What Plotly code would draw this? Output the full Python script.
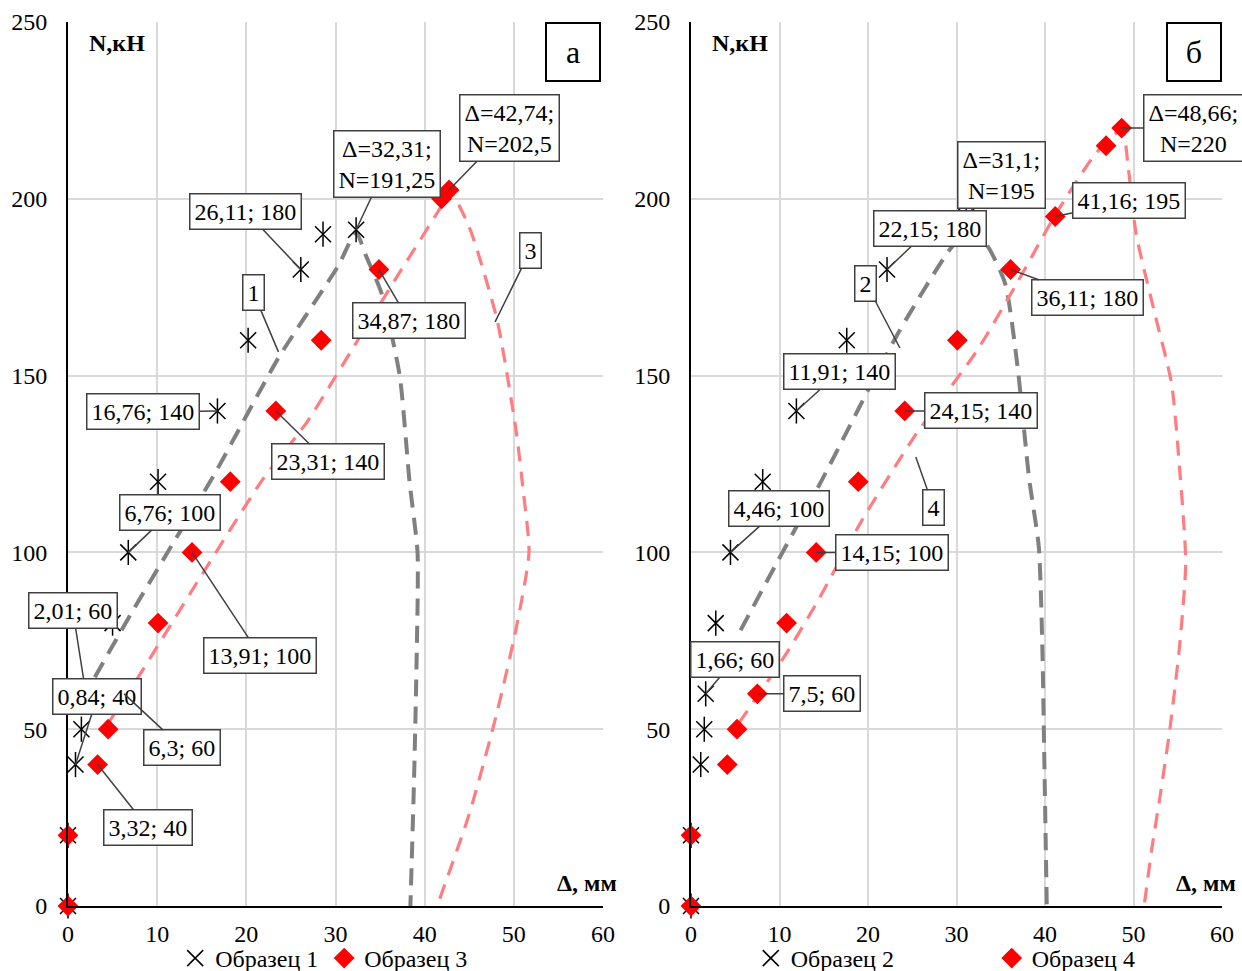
import plotly.graph_objects as go

# ---------------- Panel а ----------------
s1_x = [0, 0, 0.84, 1.5, 2.01, 5.0, 6.76, 10.1, 16.76, 20.2, 26.11, 28.6, 32.31]
s1_y = [0, 20, 40, 50, 60, 80, 100, 120, 140, 160, 180, 190, 191.25]
s3_x = [0, 0, 3.32, 4.5, 6.3, 10.1, 13.91, 18.2, 23.31, 28.4, 34.87, 41.9, 42.74]
s3_y = [0, 20, 40, 50, 60, 80, 100, 120, 140, 160, 180, 200, 202.5]

c1_x = [1.5, 7.1, 12.0, 16.4, 23.6, 30.3, 32.3, 33.4, 35.2, 37.2, 38.3, 39.2, 39.1, 38.8, 38.4]
c1_y = [58, 82.8, 103.5, 122, 155, 181, 190.5, 184, 173, 150, 120, 100, 70, 35, 0]
c3_x = [4.6, 7.9, 14.6, 21.8, 26.7, 32.5, 36.9, 41.8, 42.74, 45.0, 48.1, 50.3, 51.0, 51.7, 50.3, 48.1, 45.0, 41.4]
c3_y = [52, 64.8, 92, 120.5, 136.5, 160, 178, 197.7, 202.5, 192, 166, 133.6, 118.6, 100, 79, 54.6, 26, 0]

# ---------------- Panel б ----------------
s2_x = [0, 0, 1.1, 1.5, 1.66, 2.8, 4.46, 8.1, 11.91, 17.6, 22.15, 31.1]
s2_y = [0, 20, 40, 50, 60, 80, 100, 120, 140, 160, 180, 195]
s4_x = [0, 0, 4.1, 5.2, 7.5, 10.8, 14.15, 18.9, 24.15, 30.1, 36.11, 41.16, 46.9, 48.66]
s4_y = [0, 20, 40, 50, 60, 80, 100, 120, 140, 160, 180, 195, 215, 220]

c2_x = [5.6, 9.9, 14.8, 23.4, 29.2, 31.3, 33.4, 35.5, 36.9, 38.2, 39.3, 39.7, 39.9, 40.2]
c2_y = [78, 98, 120.5, 162, 185.5, 191, 187, 176, 152.5, 121, 101.6, 73, 45, 0]
c4_x = [5.4, 10.8, 14.4, 19.3, 25.2, 32.3, 36.8, 41.3, 45.8, 48.7, 49.4, 50.3, 52.5, 54.3, 55.2, 55.9, 55.2, 54.1, 53.0, 52.1, 51.2]
c4_y = [51.7, 71.5, 86.6, 109, 132.6, 157, 176, 196, 213, 219.5, 209, 190, 166.6, 147.8, 124, 97, 73.3, 49.8, 31, 16.7, 0]

x_ticks = [0, 10, 20, 30, 40, 50, 60]
y_ticks = [0, 50, 100, 150, 200, 250]

# callouts: (text, x, y, ax, ay)
call_a = [
    ("Δ=42,74;<br>N=202,5", 42.74, 202.5, 60, -62),
    ("Δ=32,31;<br>N=191,25", 32.31, 191.25, 31, -66),
    ("26,11; 180", 26.11, 180, -55, -58),
    ("1", 23.6, 156.7, -25, -59),
    ("3", 47.9, 165.2, 35, -71),
    ("34,87; 180", 34.87, 180, 30, 51),
    ("16,76; 140", 16.76, 140, -74, 1),
    ("23,31; 140", 23.31, 140, 52, 51),
    ("6,76; 100", 6.76, 100, 42, -40),
    ("13,91; 100", 13.91, 100, 68, 103),
    ("2,01; 60", 2.01, 60, -13, -83),
    ("0,84; 40", 0.84, 40, 22, -68),
    ("6,3; 60", 6.3, 60, 58, 54),
    ("3,32; 40", 3.32, 40, 50, 63),
]
call_b = [
    ("Δ=48,66;<br>N=220", 48.66, 220, 72, 0),
    ("41,16; 195", 41.16, 195, 74, -16),
    ("Δ=31,1;<br>N=195", 31.1, 195, 35, -41),
    ("22,15; 180", 22.15, 180, 43, -41),
    ("36,11; 180", 36.11, 180, 77, 28),
    ("2", 23.6, 157.8, -34, -65),
    ("11,91; 140", 11.91, 140, 43, -39),
    ("24,15; 140", 24.15, 140, 76, 0),
    ("4,46; 100", 4.46, 100, 49, -44),
    ("14,15; 100", 14.15, 100, 76, 0),
    ("4", 25.4, 127, 18, 51),
    ("1,66; 60", 1.66, 60, 29, -34),
    ("7,5; 60", 7.5, 60, 65, 0),
]

FONT = "Liberation Serif, Times New Roman, serif"
FS = 24
GRAY = "#808080"
PINK = "#FF7C80"
RED = "#FF0000"

fig = go.Figure()

def add_panel(xa, ya, sx, sy, sxr, syr, cgx, cgy, crx, cry, name_a, name_b, leg):
    fig.add_trace(go.Scatter(x=cgx, y=cgy, mode="lines", xaxis=xa, yaxis=ya, showlegend=False,
                             line=dict(color=GRAY, width=4, dash="17px,10px", shape="spline", smoothing=0.6),
                             hoverinfo="skip"))
    fig.add_trace(go.Scatter(x=crx, y=cry, mode="lines", xaxis=xa, yaxis=ya, showlegend=False,
                             line=dict(color=PINK, width=3.2, dash="15px,10px", shape="spline", smoothing=0.6),
                             hoverinfo="skip"))
    fig.add_trace(go.Scatter(x=sx, y=sy, mode="markers", xaxis=xa, yaxis=ya, name=name_a, legend=leg,
                             cliponaxis=False,
                             marker=dict(symbol="x-thin-open", size=16, color="black",
                                         line=dict(color="black", width=1.5))))
    fig.add_trace(go.Scatter(x=sx, y=sy, mode="markers", xaxis=xa, yaxis=ya, showlegend=False,
                             cliponaxis=False,
                             marker=dict(symbol="line-ns-open", size=18, color="black",
                                         line=dict(color="black", width=1.5))))
    fig.add_trace(go.Scatter(x=sxr, y=syr, mode="markers", xaxis=xa, yaxis=ya, name=name_b, legend=leg,
                             cliponaxis=False,
                             marker=dict(symbol="diamond", size=16, color=RED, line=dict(width=0))))

add_panel("x", "y", s1_x, s1_y, s3_x, s3_y, c1_x, c1_y, c3_x, c3_y, "Образец 1", "Образец 3", "legend")
add_panel("x2", "y2", s2_x, s2_y, s4_x, s4_y, c2_x, c2_y, c4_x, c4_y, "Образец 2", "Образец 4", "legend2")

# figure is slightly taller than the 971 px window; the extra strip is hidden (overflow hidden)
W, H = 1242, 981
dl = [68 / W, 603 / W]
dr = [691 / W, 1222 / W]
dy = [(H - 906) / H, (H - 22) / H]

axis_common = dict(showgrid=True, gridcolor="#d9d9d9", gridwidth=1.5, zeroline=False,
                   showline=True, linecolor="black", linewidth=2, ticks="",
                   tickfont=dict(family=FONT, size=FS, color="black"), automargin=False)

leg_common = dict(orientation="h", y=0.0, yanchor="bottom",
                  xanchor="center", font=dict(family=FONT, size=FS), bgcolor="rgba(0,0,0,0)",
                  itemwidth=30, tracegroupgap=0)

fig.update_layout(
    width=W, height=H,
    margin=dict(l=0, r=0, t=0, b=0),
    paper_bgcolor="white", plot_bgcolor="white",
    font=dict(family=FONT, size=FS, color="black"),
    xaxis=dict(domain=dl, range=[0, 60], tickvals=x_ticks, anchor="y", ticklabelstandoff=5, **axis_common),
    yaxis=dict(domain=dy, range=[0, 250], tickvals=y_ticks, anchor="x", ticklabelstandoff=14, **axis_common),
    xaxis2=dict(domain=dr, range=[0, 60], tickvals=x_ticks, anchor="y2", ticklabelstandoff=5, **axis_common),
    yaxis2=dict(domain=dy, range=[0, 250], tickvals=y_ticks, anchor="x2", ticklabelstandoff=14, **axis_common),
    legend=dict(x=0.261, entrywidth=104, **leg_common),
    legend2=dict(x=0.7985, entrywidth=196, **leg_common),
    showlegend=True,
)

annots = []
for calls, xr, yr in ((call_a, "x", "y"), (call_b, "x2", "y2")):
    for text, x, y, ax, ay in calls:
        annots.append(dict(x=x, y=y, xref=xr, yref=yr, text=text, showarrow=True,
                           ax=ax, ay=ay, arrowhead=0, arrowwidth=1.5, arrowcolor="#404040",
                           standoff=0, startstandoff=0,
                           bgcolor="white", bordercolor="#404040", borderwidth=1.5, borderpad=4,
                           font=dict(family=FONT, size=FS, color="black")))
    # axis titles
    annots.append(dict(x=0, y=250, xref=xr, yref=yr, text="<b>N,кН</b>", showarrow=False,
                       xanchor="left", yanchor="top", xshift=19, yshift=-6,
                       font=dict(family=FONT, size=FS, color="black")))
    annots.append(dict(x=60, y=0, xref=xr, yref=yr, text="<b>Δ, мм</b>", showarrow=False,
                       xanchor="right", yanchor="bottom", xshift=16, yshift=8,
                       font=dict(family=FONT, size=FS, color="black")))
annots.append(dict(x=60, y=250, xref="x", yref="y", text="а", showarrow=False, xanchor="right",
                   yanchor="top", xshift=-2, width=52, height=56, borderpad=0, bordercolor="black",
                   borderwidth=2, bgcolor="white", font=dict(family=FONT, size=32, color="black")))
annots.append(dict(x=60, y=250, xref="x2", yref="y2", text="б", showarrow=False, xanchor="right",
                   yanchor="top", width=52, height=56, borderpad=0, bordercolor="black",
                   borderwidth=2, bgcolor="white", font=dict(family=FONT, size=32, color="black")))
fig.update_layout(annotations=annots)

fig.write_html("out.html",
               post_script="document.body.style.margin='0px';document.body.style.overflow='hidden';"
                           "document.documentElement.style.overflow='hidden';",
               config={"displayModeBar": False})
